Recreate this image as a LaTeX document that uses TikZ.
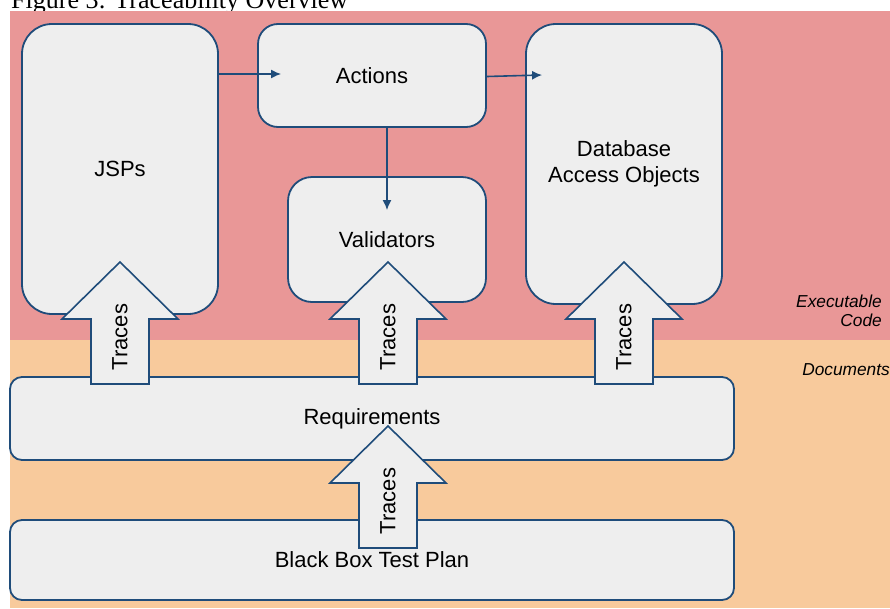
\documentclass[tikz,border=0pt]{standalone}
\usepackage{fontspec}
\setmainfont{Liberation Sans}
\newfontfamily\capfont{Liberation Serif}
\usetikzlibrary{arrows.meta,calc}
\definecolor{execbg}{HTML}{E99797}
\definecolor{docbg}{HTML}{F8CA9C}
\definecolor{boxfill}{HTML}{EEEEEE}
\definecolor{edge}{HTML}{1F4C7A}
\tikzset{
  box/.style={draw=edge, fill=boxfill, line width=1.8pt, rounded corners=#1,
    font=\fontsize{22}{26}\selectfont, align=center, inner sep=0pt},
  box/.default=12pt,
  conn/.style={draw=edge, line width=1.6pt, -{Latex[length=10pt,width=9pt]}},
  trace/.style={draw=edge, fill=boxfill, line width=1.6pt, line join=miter},
  zonelabel/.style={font=\itshape\fontsize{17.3}{19}\selectfont, align=right, inner sep=0pt},
  pics/tracearrow/.style={code={
    \draw[trace] (0,0) -- (58,57) -- (29,57) -- (29,122) -- (-29,122)
      -- (-29,57) -- (-58,57) -- cycle;
    \node[rotate=90, inner sep=0pt, font=\fontsize{22}{26}\selectfont]
      (-label) at (0,75) {Traces};
  }}
}
\begin{document}
\begin{tikzpicture}[x=1pt,y=-1pt]
  \useasboundingbox (0,0) rectangle (890,608);
  % caption
  \node[anchor=base west, inner sep=0pt, font=\capfont\fontsize{26}{28}\selectfont]
    (caption) at (11,8) {Figure 3: Traceability Overview};
  % zones
  \fill[execbg] (10,11) rectangle (890,340);
  \fill[docbg] (10,340) rectangle (890,608);
  \node[zonelabel, anchor=east] (execlabel) at (882,311) {Executable\\Code};
  \node[zonelabel, anchor=east] (doclabel) at (890,370) {Documents};
  % executable code
  \node[box=30pt, minimum width=196pt, minimum height=290pt] (jsp) at (120,169) {JSPs};
  \node[box=20pt, minimum width=228pt, minimum height=103pt] (actions) at (372,75.5) {Actions};
  \node[box=30pt, minimum width=196pt, minimum height=280pt] (dao) at (624,164) {Database\\Access Objects};
  \node[box=24pt, minimum width=198pt, minimum height=125pt] (validators) at (387,239.5) {Validators};
  % documents
  \node[box=12pt, minimum width=724pt, minimum height=83pt] (req) at (372,418.5) {Requirements};
  \node[box=12pt, minimum width=724pt, minimum height=80pt] (bbtp) at (372,560) {Black Box Test Plan};
  % calls between components
  \draw[conn] (jsp.east |- 0,74) -- ($(actions.west |- 0,74)+(24,0)$);
  \draw[conn] (actions.east |- 0,76.5) -- ($(dao.west |- 0,75)+(17,0)$);
  \draw[conn] (validators.north |- actions.south) -- ($(validators.north)+(0,34)$);
  % traceability
  \pic (trjsp) at (120,262) {tracearrow};
  \pic (trval) at (388,262) {tracearrow};
  \pic (trdao) at (624,262) {tracearrow};
  \pic (trreq) at (388,426) {tracearrow};
\end{tikzpicture}
\end{document}
